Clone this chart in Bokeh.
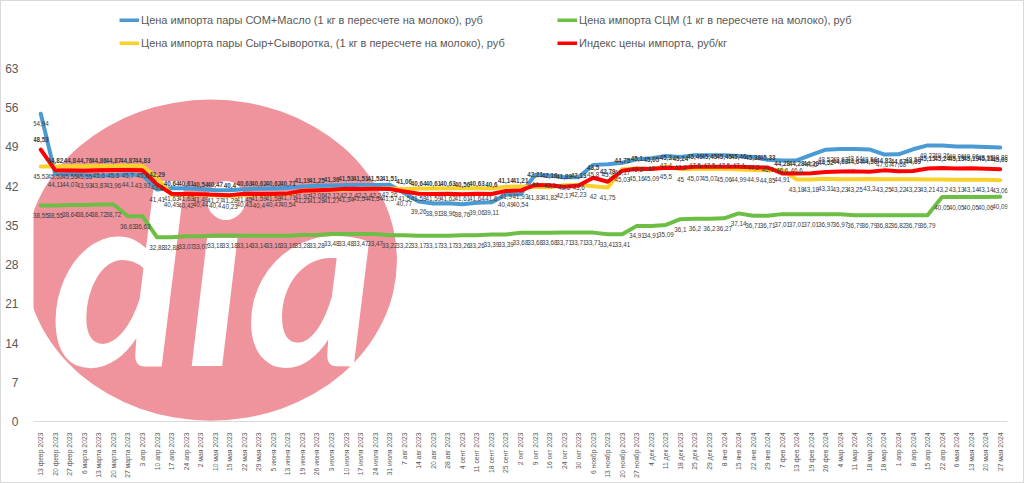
import math
from bokeh.plotting import figure
from bokeh.layouts import column
from bokeh.models import Legend, LegendItem, FixedTicker, ColumnDataSource, Range1d
from bokeh.core.properties import value
from bokeh.embed import file_html
from bokeh.resources import INLINE

categories = [
    "13 февр 2023", "20 февр 2023", "27 февр 2023", "6 марта 2023", "13 марта 2023",
    "20 марта 2023", "27 марта 2023", "3 апр 2023", "10 апр 2023", "17 апр 2023",
    "24 апр 2023", "2 мая 2023", "10 мая 2023", "15 мая 2023", "22 мая 2023",
    "29 мая 2023", "5 июня 2023", "13 июня 2023", "19 июня 2023", "26 июня 2023",
    "3 июля 2023", "10 июля 2023", "17 июля 2023", "24 июля 2023", "31 июля 2023",
    "7 авг 2023", "14 авг 2023", "20 авг 2023", "28 авг 2023", "4 сент 2023",
    "11 сент 2023", "18 сент 2023", "25 сент 2023", "2 окт 2023", "9 окт 2023",
    "16 окт 2023", "24 окт 2023", "30 окт 2023", "6 ноябр 2023", "13 ноябр 2023",
    "20 ноябр 2023", "27 ноябр 2023", "4 дек 2023", "11 дек 2023", "18 дек 2023",
    "25 дек 2023", "29 дек 2023", "8 янв 2024", "15 янв 2024", "22 янв 2024",
    "29 янв 2024", "7 фев 2024", "13 фев 2024", "19 фев 2024", "26 фев 2024",
    "4 мар 2024", "11 мар 2024", "18 мар 2024", "18 мар 2024", "1 апр 2024",
    "8 апр 2024", "15 апр 2024", "22 апр 2024", "6 мая 2024", "13 мая 2024",
    "20 мая 2024", "27 мая 2024",
]

som_maslo = [
    54.94, 44.11, 44.07, 43.93, 43.87, 43.96, 44.10, 43.93, 41.41, 41.63,
    41.63, 41.49, 41.27, 41.28, 41.45, 41.59, 41.58, 41.71, 41.92, 42.06,
    42.12, 42.20, 42.20, 42.20, 42.26, 40.77, 39.26, 38.91, 38.96, 38.76,
    39.06, 39.11, 40.49, 40.54, 44.00, 43.90, 43.60, 43.60, 45.80, 45.90,
    46.17, 46.80, 47.00, 47.40, 47.20, 47.50, 47.50, 47.50, 47.40, 47.20,
    46.70, 46.60, 46.60, 47.60, 48.52, 48.62, 48.64, 48.56, 47.67, 47.68,
    48.58, 49.27, 49.26, 49.06, 49.06, 48.98, 48.88,
]

scm = [
    38.55, 38.55, 38.64, 38.64, 38.72, 38.72, 36.63, 36.63, 32.88, 32.88,
    33.07, 33.07, 33.18, 33.18, 33.14, 33.14, 33.16, 33.16, 33.28, 33.28,
    33.48, 33.48, 33.47, 33.47, 33.22, 33.22, 33.17, 33.17, 33.17, 33.26,
    33.26, 33.39, 33.39, 33.68, 33.68, 33.68, 33.71, 33.71, 33.71, 33.41,
    33.41, 34.91, 34.91, 35.09, 36.10, 36.20, 36.20, 36.27, 37.14, 36.71,
    36.71, 37.01, 37.01, 37.01, 36.97, 36.97, 36.79, 36.79, 36.82, 36.82,
    36.79, 36.79, 40.05, 40.05, 40.05, 40.06, 40.09,
]

syr_syvorotka = [
    45.52, 45.52, 45.55, 45.55, 45.60, 45.60, 45.70, 45.60, 43.50, 40.49,
    40.42, 40.44, 40.40, 40.23, 40.43, 40.40, 40.47, 40.54, 41.21, 41.28,
    41.27, 41.34, 41.54, 41.54, 41.57, 41.50, 41.58, 41.59, 41.62, 41.61,
    41.64, 41.60, 41.90, 41.93, 41.83, 41.82, 42.17, 42.23, 42.00, 41.75,
    45.03, 45.16, 45.09, 45.50, 45.00, 45.07, 45.07, 45.06, 44.99, 44.90,
    44.85, 44.91, 43.18, 43.18, 43.31, 43.23, 43.25, 43.30, 43.25, 43.22,
    43.23, 43.21, 43.20, 43.13, 43.14, 43.14, 43.06,
]

import_index = [
    48.53, 44.82, 44.80, 44.76, 44.86, 44.87, 44.87, 44.83, 42.29, 40.64,
    40.61, 40.54, 40.47, 40.40, 40.63, 40.62, 40.62, 40.71, 41.19, 41.25,
    41.36, 41.53, 41.51, 41.52, 41.51, 41.06, 40.64, 40.61, 40.63, 40.56,
    40.63, 40.60, 41.14, 41.21, 42.21, 42.16, 41.89, 42.13, 43.50, 42.79,
    44.75, 45.10, 45.05, 45.30, 45.24, 45.46, 45.45, 45.45, 45.46, 45.38,
    45.33, 44.28, 44.28, 44.29, 44.52, 44.62, 44.64, 44.56, 44.82, 44.67,
    44.69, 45.15, 45.24, 45.15, 45.19, 45.11, 45.03,
]

series_names = [
    "Цена импорта пары СОМ+Масло (1 кг в пересчете на молоко), руб",
    "Цена импорта СЦМ (1 кг в пересчете на молоко), руб",
    "Цена импорта пары Сыр+Сыворотка, (1 кг в пересчете на молоко), руб",
    "Индекс цены импорта, руб/кг",
]
series_colors = ["#4A9BD4", "#6DBE45", "#F9D12C", "#FF0000"]
y_ticks = [0, 7, 14, 21, 28, 35, 42, 49, 56, 63]

FONT = "Liberation Sans"
GRAY = "#595959"
TOP_H = 55


def fmt(v):
    s = ("%.2f" % v).rstrip("0").rstrip(".")
    return s.replace(".", ",")


x = list(range(len(categories)))
series = [som_maslo, scm, syr_syvorotka, import_index]

# ---- legend strip on top (the series themselves lie outside its tiny range) ----
top = figure(width=1022, height=TOP_H, output_backend="svg", toolbar_location=None,
             x_range=Range1d(0, 1), y_range=Range1d(-2, -1), min_border=0)
top.axis.visible = False
top.xgrid.visible = False
top.ygrid.visible = False
top.outline_line_color = None
legend_keys = [top.line(x=x, y=vals, line_color=c, line_width=4)
               for vals, c in zip(series, series_colors)]

rows = [[0, 1], [2, 3]]
row_y = [30, 7]
for idxs, ly in zip(rows, row_y):
    lg = Legend(
        items=[LegendItem(label=series_names[i], renderers=[legend_keys[i]]) for i in idxs],
        orientation="horizontal", location=(86, ly),
        glyph_width=20, glyph_height=4, label_standoff=2, label_width=416, spacing=0,
        padding=0, margin=0,
        border_line_color=None, background_fill_alpha=0,
        label_text_font=FONT, label_text_font_size="11px", label_text_color=GRAY,
    )
    top.add_layout(lg, "center")

# ---- main chart ----
p = figure(
    width=1022, height=481 - TOP_H, output_backend="svg", toolbar_location=None,
    x_range=Range1d(-0.5, len(categories) - 0.5), y_range=Range1d(0, 63),
    min_border_left=32, min_border_right=16, min_border_top=67 - TOP_H, min_border_bottom=61,
)
p.outline_line_color = None
p.xgrid.visible = False
p.ygrid.visible = False

# watermark (decoration)
p.ellipse(x=[11.7], y=[28.8], width=25.6, height=57.3,
          fill_color="#EF939C", line_color=None)
p.text(x=[11.9], y=[0.4], text=["dia"], text_color="white",
       text_font=value("Lato"), text_font_style="bold italic",
       text_font_size="250px", text_align="center", text_baseline="bottom")

for vals, col in zip(series, series_colors):
    p.line(x=x, y=vals, line_color=col, line_width=4, line_join="round", line_cap="round")

# data labels
offsets = [10, 10, 10, -10]
for vals, off, bold in zip(series, offsets, [False, False, False, True]):
    src = ColumnDataSource(dict(x=x, y=vals, t=[fmt(v) for v in vals]))
    p.text(x="x", y="y", text="t", source=src, y_offset=off,
           text_font=value(FONT), text_font_size="6.3px",
           text_font_style="bold" if bold else "normal",
           text_color="#404040", text_align="center", text_baseline="middle")

# axes
p.yaxis.ticker = FixedTicker(ticks=y_ticks)
p.yaxis.axis_line_color = None
p.yaxis.major_tick_line_color = None
p.yaxis.minor_tick_line_color = None
p.yaxis.major_label_text_font = FONT
p.yaxis.major_label_text_font_size = "12px"
p.yaxis.major_label_text_color = GRAY
p.yaxis.major_label_standoff = 9

p.xaxis.ticker = FixedTicker(ticks=x)
p.xaxis.major_label_overrides = {i: c for i, c in enumerate(categories)}
p.xaxis.major_label_orientation = math.pi / 2
p.xaxis.axis_line_color = "#d9d9d9"
p.xaxis.major_tick_line_color = None
p.xaxis.minor_tick_line_color = None
p.xaxis.major_label_text_font = FONT
p.xaxis.major_label_text_font_size = "6.8px"
p.xaxis.major_label_text_color = GRAY
p.xaxis.major_label_standoff = 5

layout = column(top, p, spacing=0)
layout.styles = {"border": "1px solid #d9d9d9"}

open("out.html", "w").write(file_html(layout, INLINE))
